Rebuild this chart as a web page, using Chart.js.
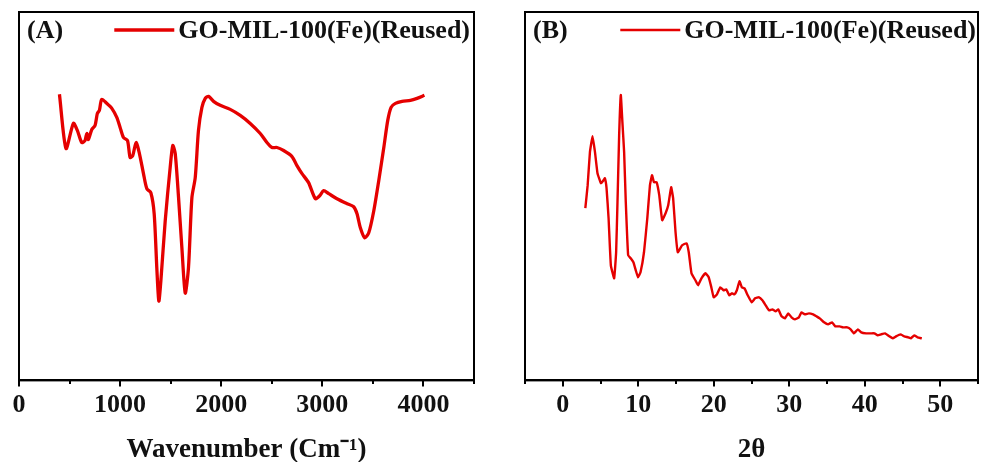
<!DOCTYPE html>
<html>
<head>
<meta charset="utf-8">
<script src="https://cdn.jsdelivr.net/npm/chart.js@4/dist/chart.umd.min.js"></script>
<style>
  html, body { margin: 0; padding: 0; background: #fff; }
  #wrap { position: relative; width: 981px; height: 462px; overflow: hidden; }
  #boxA { position: absolute; left: 0; top: 0; width: 490px; height: 462px; }
  #boxB { position: absolute; left: 490px; top: 0; width: 491px; height: 462px; }
</style>
</head>
<body>
<div id="wrap">
  <div id="boxA"><canvas id="chartA" width="490" height="462"></canvas></div>
  <div id="boxB"><canvas id="chartB" width="491" height="462"></canvas></div>
</div>
<script>
// ---- Data: panel A (FTIR) ----
const seriesName = 'GO-MIL-100(Fe)(Reused)';
const panelLabels = ['(A)', '(B)'];
const waveA = [400,465,538,577,620,653,670,686,720,752,775,795,818,868,918,967,1000,1033,1073,1099,1125,1158,1191,1231,1264,1304,1337,1363,1383,1403,1446,1495,1521,1545,1578,1611,1644,1676,1710,1743,1775,1809,1842,1875,1924,1990,2089,2188,2287,2386,2452,2502,2551,2617,2700,2749,2799,2864,2931,2974,3013,3063,3145,3245,3310,3343,3376,3419,3459,3509,3558,3608,3647,3680,3723,3789,3871,3937,4010];
const transA = [285,231,256,249,237,239,246,240,250,254,266,269,280,276,271,262,252,242,239,222,224,237,226,206,191,187,166,112,79,99,159,212,234,226,182,132,87,112,182,202,249,272,281,283,278,274,270,264,256,246,237,232,232,229,223,214,206,197,181,184,189,186,181,176,173,166,152,142,147,169,199,232,259,272,276,278,279,281,284];
const ticksA = [0, 1000, 2000, 3000, 4000];
const titleA = 'Wavenumber (Cm\u207B\u00B9)';

// ---- Data: panel B (XRD) ----
const thetaB = [2.99,3.3,3.6,3.95,4.27,4.6,5.06,5.4,5.58,5.8,6.07,6.37,6.81,7.07,7.25,7.47,7.69,7.9,8.13,8.35,8.66,9.0,9.36,9.67,9.97,10.3,10.76,11.2,11.55,11.82,12.08,12.43,12.78,13.17,13.62,13.97,14.36,14.62,14.94,15.24,15.81,16.39,16.69,17.05,17.57,17.92,18.37,18.9,19.33,19.68,19.99,20.43,20.87,21.3,21.66,22.05,22.4,22.75,23.06,23.41,23.72,24.07,24.5,25.03,25.48,26.0,26.44,26.88,27.32,27.76,28.2,28.55,28.98,29.43,29.87,30.3,30.75,31.28,31.62,32.06,32.6,33.16,33.6,34.04,34.61,35.14,35.67,36.1,36.68,37.12,37.68,38.13,38.56,39.09,39.53,40.18,40.84,41.29,41.72,42.16,42.69,43.27,43.7,44.14,44.72,45.24,45.77,46.11,46.56,46.98,47.56];
const intB = [172,195,228,244,228,207,197,200,202,192,162,115,102,128,178,245,285,258,228,178,125,122,118,110,103,108,128,162,195,205,198,198,185,160,167,175,193,182,148,128,135,137,128,107,100,95,102,107,103,93,83,86,93,90,91,85,87,86,90,99,93,92,85,78,82,83,80,75,70,71,69,71,64,62,67,63,61,63,68,66,67,66,64,62,58,56,58,54,54,53,53,51,47,51,48,47,47,47,45,46,47,44,42,44,46,44,43,42,45,43,42];
const ticksB = [0, 10, 20, 30, 40, 50];
const titleB = '2\u03B8';

const RED = '#e50000';
const FONT = "'Liberation Serif', 'Times New Roman', serif";

function toPts(xs, ys) { return xs.map((x, i) => ({ x: x, y: ys[i] })); }

const framePlugin = {
  id: 'frameLegend',
  afterDraw(chart, args, opts) {
    const { ctx, chartArea: a } = chart;
    const xs = chart.scales.x;
    ctx.save();
    // frame
    ctx.strokeStyle = '#000';
    ctx.lineWidth = 2;
    ctx.strokeRect(a.left, a.top, a.right - a.left, a.bottom - a.top);
    // short minor ticks
    ctx.beginPath();
    xs.ticks.forEach(t => {
      if (!opts.major.includes(t.value)) {
        const px = Math.round(xs.getPixelForValue(t.value));
        ctx.moveTo(px, a.bottom);
        ctx.lineTo(px, a.bottom + 3.5);
      }
    });
    ctx.stroke();
    // panel label
    ctx.fillStyle = '#111';
    ctx.font = 'bold 26px ' + FONT;
    ctx.textBaseline = 'middle';
    ctx.textAlign = 'left';
    ctx.fillText(opts.label, a.left + 8, a.top + 19);
    // legend
    const ds = chart.data.datasets[0];
    ctx.font = 'bold 26px ' + FONT;
    ctx.textAlign = 'right';
    const tx = a.right - opts.legendRight;
    ctx.fillText(ds.label, tx, a.top + 19);
    const w = ctx.measureText(ds.label).width;
    ctx.strokeStyle = ds.borderColor;
    ctx.lineWidth = opts.legendWidth;
    ctx.beginPath();
    ctx.moveTo(tx - w - 4 - 60, a.top + 18);
    ctx.lineTo(tx - w - 4, a.top + 18);
    ctx.stroke();
    ctx.restore();
  }
};

function makeChart(id, pts, xMin, xMax, step, major, title, yMax, lw, tension, label, pad, legendRight) {
  return new Chart(document.getElementById(id), {
    type: 'scatter',
    data: { datasets: [{ label: seriesName, data: pts, showLine: true, borderColor: RED, backgroundColor: RED, borderWidth: lw, pointRadius: 0, tension: tension }] },
    options: {
      responsive: false,
      animation: false,
      events: [],
      layout: { padding: pad },
      plugins: { legend: { display: false }, tooltip: { enabled: false }, frameLegend: { label: label, legendRight: legendRight, legendWidth: lw, major: major } },
      scales: {
        x: {
          type: 'linear', min: xMin, max: xMax,
          afterBuildTicks: (s) => { const t = []; for (let v = xMin; v <= xMax + 1e-9; v += step) t.push({ value: +v.toFixed(6) }); s.ticks = t; },
          ticks: {
            color: '#111', padding: 3, maxRotation: 0, autoSkip: false,
            font: { family: FONT, size: 26, weight: 'bold' },
            callback: (v) => major.includes(v) ? String(v) : ''
          },
          grid: {
            display: true, drawOnChartArea: false, tickLength: 6, lineWidth: 2,
            tickColor: (c) => (c.tick && major.includes(c.tick.value)) ? '#000' : 'rgba(0,0,0,0)'
          },
          border: { display: true, color: '#000', width: 2 },
          title: { display: true, text: title, color: '#111', font: { family: FONT, size: 27, weight: 'bold' }, padding: { top: 10, bottom: -4 } }
        },
        y: { display: false, min: 0, max: yMax }
      }
    },
    plugins: [framePlugin]
  });
}

makeChart('chartA', toPts(waveA, transA), 0, 4500, 500, ticksA, titleA, 367, 3.3, 0.25, panelLabels[0], { left: 19, right: 16, top: 12, bottom: 0 }, 4);
makeChart('chartB', toPts(thetaB, intB), -5, 55, 5, ticksB, titleB, 368, 2.4, 0.1, panelLabels[1], { left: 35, right: 2, top: 12, bottom: 0 }, 2);
</script>
</body>
</html>
